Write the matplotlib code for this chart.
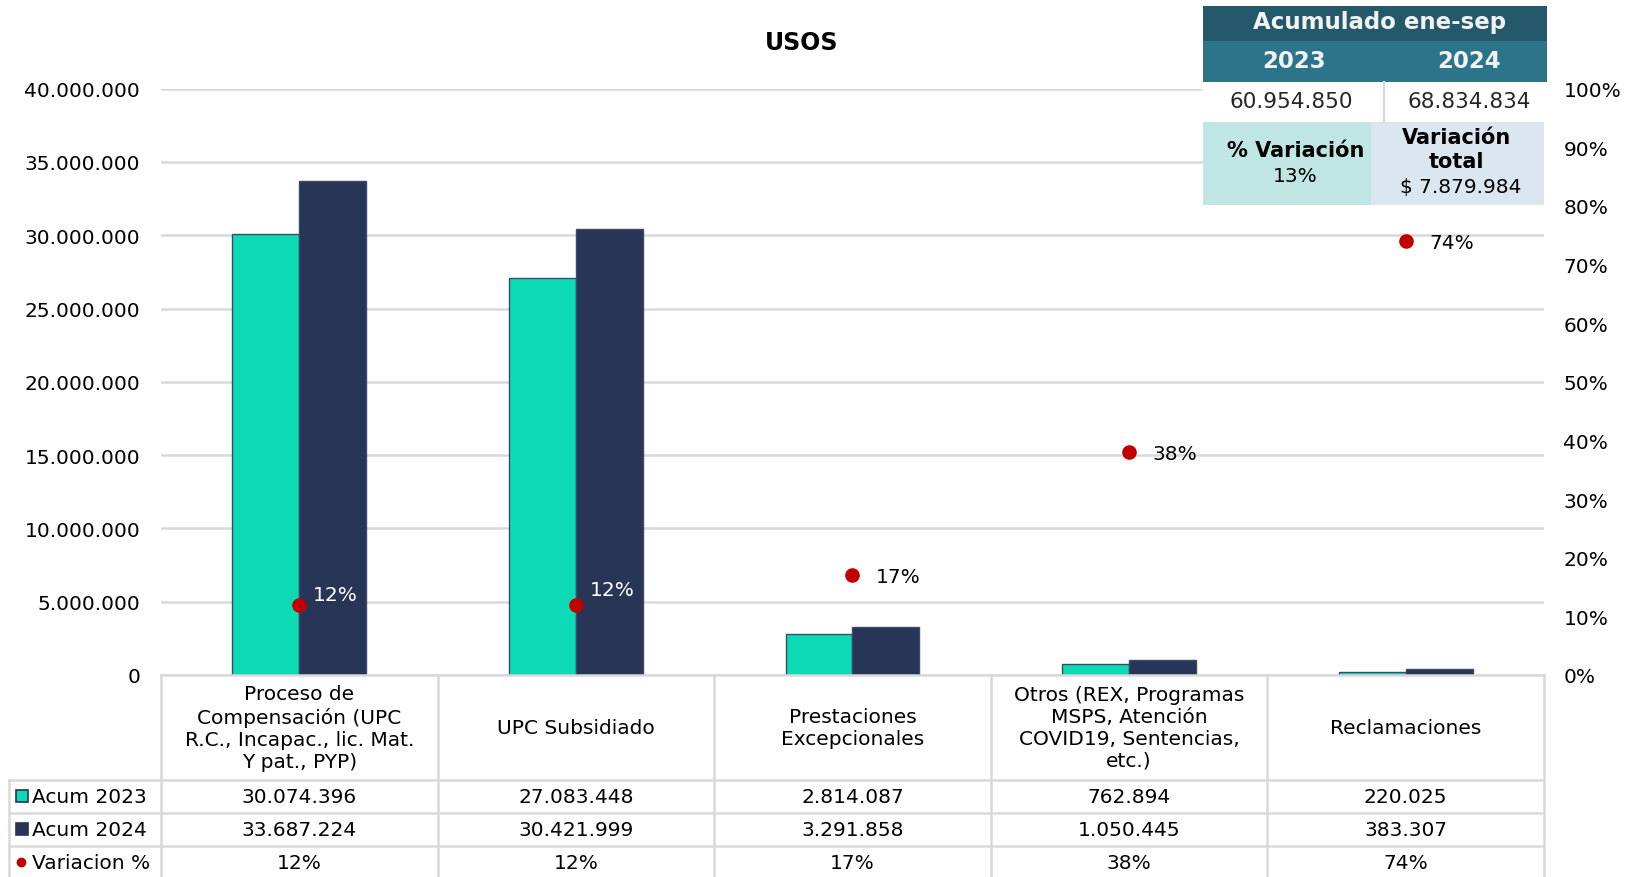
import matplotlib
matplotlib.use("Agg")
import matplotlib.pyplot as plt
import matplotlib.transforms as mtransforms
from matplotlib.patches import Rectangle
from matplotlib.ticker import FuncFormatter, MultipleLocator

# data
categorias = ["Proceso de\nCompensación (UPC\nR.C., Incapac., lic. Mat.\nY pat., PYP)",
              "UPC Subsidiado",
              "Prestaciones\nExcepcionales",
              "Otros (REX, Programas\nMSPS, Atención\nCOVID19, Sentencias,\netc.)",
              "Reclamaciones"]
acum_2023 = [30074396, 27083448, 2814087, 762894, 220025]
acum_2024 = [33687224, 30421999, 3291858, 1050445, 383307]
variacion = [0.12, 0.12, 0.17, 0.38, 0.74]
total_2023 = 60954850
total_2024 = 68834834
var_total = 7879984
var_pct = 0.13

# colores
c23 = "#0DDBB5"
c24 = "#283556"
rojo = "#C00000"
gris = "#D9D9D9"
fs = 14.5


def miles(v):
    return f"{v:,.0f}".replace(",", ".")


W, H = 1631, 878
fig = plt.figure(figsize=(W / 100, H / 100), dpi=100)
plt.rcParams['font.family'] = ['DejaVu Sans']

ax = fig.add_axes([161 / W, (H - 676) / H, 1383 / W, (676 - 89.7) / H])
x = list(range(len(categorias)))
bw = 0.242
ax.bar([i - bw / 2 for i in x], acum_2023, bw, color=c23, edgecolor="#3A4A6B", linewidth=1, zorder=3)
ax.bar([i + bw / 2 for i in x], acum_2024, bw, color=c24, edgecolor="#3A4A6B", linewidth=1, zorder=3)
ax.set_xlim(-0.5, len(categorias) - 0.5)
ax.set_ylim(0, 40000000)
ax.yaxis.set_major_locator(MultipleLocator(5000000))
ax.yaxis.set_major_formatter(FuncFormatter(lambda v, p: miles(v)))
ax.grid(axis="y", color=gris, linewidth=1.8, zorder=0)
ax.set_xticks([])
ax.tick_params(axis="y", length=0, pad=15, labelsize=fs)
for s in ax.spines.values():
    s.set_visible(False)

ax2 = ax.twinx()
ax2.set_ylim(0, 1)
ax2.yaxis.set_major_locator(MultipleLocator(0.1))
ax2.yaxis.set_major_formatter(FuncFormatter(lambda v, p: f"{v * 100:.0f}%"))
ax2.tick_params(axis="y", length=0, pad=14, labelsize=fs)
for s in ax2.spines.values():
    s.set_visible(False)
ax2.plot(x, variacion, "o", color=rojo, markersize=9.5, zorder=5)
lbl_color = ["white", "white", "black", "black", "black"]
lbl_off = [(10, 7), (10, 11), (17, -1), (17, -1), (17, -1)]
for i, v in enumerate(variacion):
    ax2.annotate(f"{v * 100:.0f}%", (i, v), xytext=lbl_off[i], textcoords="offset points",
                 ha="left", va="center", fontsize=fs, color=lbl_color[i])

fig.text(802 / W, 1 - 43 / H, "USOS", ha="center", va="center", fontsize=17, fontweight="bold")

# capa en pixeles para las tablas
ov = fig.add_axes([0, 0, 1, 1], zorder=10)
ov.set_xlim(0, W)
ov.set_ylim(H, 0)
ov.axis("off")
bt = mtransforms.blended_transform_factory(ax.transData, ov.transData)

# tabla de datos inferior
rows_y = [676, 781, 814, 847, 880]
edges = [i - 0.5 for i in range(len(categorias) + 1)]
for e in edges:
    ov.plot([e, e], [rows_y[0], H], color=gris, lw=1.8, transform=bt, clip_on=False)
ov.plot([-0.5, 4.5], [676, 676], color=gris, lw=1.8, transform=bt)
ov.plot([9, 9], [781, H], color=gris, lw=1.8)
for yy in rows_y[1:4]:
    ov.plot([9, 161], [yy, yy], color=gris, lw=1.8)
    ov.plot([-0.5, 4.5], [yy, yy], color=gris, lw=1.8, transform=bt)

for i, c in enumerate(categorias):
    ov.text(i, 728.5, c, transform=bt, ha="center", va="center", fontsize=fs, linespacing=1.2)
filas = [[miles(v) for v in acum_2023], [miles(v) for v in acum_2024],
         [f"{v * 100:.0f}%" for v in variacion]]
for r, fila in enumerate(filas):
    yc = (rows_y[r + 1] + rows_y[r + 2]) / 2
    for i, t in enumerate(fila):
        ov.text(i, yc, t, transform=bt, ha="center", va="center", fontsize=fs)

nombres = ["Acum 2023", "Acum 2024", "Variacion %"]
for r, n in enumerate(nombres):
    yc = (rows_y[r + 1] + rows_y[r + 2]) / 2
    if r == 0:
        ov.add_patch(Rectangle((16, yc - 6), 12, 12, facecolor=c23, edgecolor=c24, lw=1.2))
    elif r == 1:
        ov.add_patch(Rectangle((16, yc - 6), 12, 12, facecolor=c24, edgecolor=c24, lw=1.2))
    else:
        ov.plot(21, yc, "o", color=rojo, markersize=6)
    ov.text(32, yc, n, ha="left", va="center", fontsize=fs)

# cuadro acumulado
x0, x1, xm = 1203, 1547, 1384
ov.add_patch(Rectangle((x0, 7), x1 - x0, 35, facecolor="#23596A", lw=0))
ov.add_patch(Rectangle((x0, 42), x1 - x0, 41, facecolor="#2C7489", lw=0))
ov.add_patch(Rectangle((x0, 83), x1 - x0, 40, facecolor="white", lw=0))
ov.plot([xm, xm], [83, 123], color=gris, lw=1.5)
ov.add_patch(Rectangle((x0, 123), 1371 - x0, 83, facecolor="#BFE6E3", lw=0))
ov.add_patch(Rectangle((1371, 123), 1544 - 1371, 83, facecolor="#DCE6F1", lw=0))
ov.text(1380, 23, "Acumulado ene-sep", ha="center", va="center", fontsize=16.5,
        fontweight="bold", color="#F2F2F2")
ov.text(1294, 61, "2023", ha="center", va="center", fontsize=16.5, fontweight="bold", color="#F2F2F2")
ov.text(1469, 61, "2024", ha="center", va="center", fontsize=16.5, fontweight="bold", color="#F2F2F2")
ov.text(1291, 102, miles(total_2023), ha="center", va="center", fontsize=15.5, color="#262626")
ov.text(1469, 102, miles(total_2024), ha="center", va="center", fontsize=15.5, color="#262626")
ov.text(1296, 151, "% Variación", ha="center", va="center", fontsize=15, fontweight="bold")
ov.text(1295, 176, f"{var_pct * 100:.0f}%", ha="center", va="center", fontsize=fs)
ov.text(1457, 138, "Variación", ha="center", va="center", fontsize=15, fontweight="bold")
ov.text(1457, 162, "total", ha="center", va="center", fontsize=15, fontweight="bold")
ov.text(1461, 188, "$ " + miles(var_total), ha="center", va="center", fontsize=fs)

fig.savefig("out.png", dpi=100)
